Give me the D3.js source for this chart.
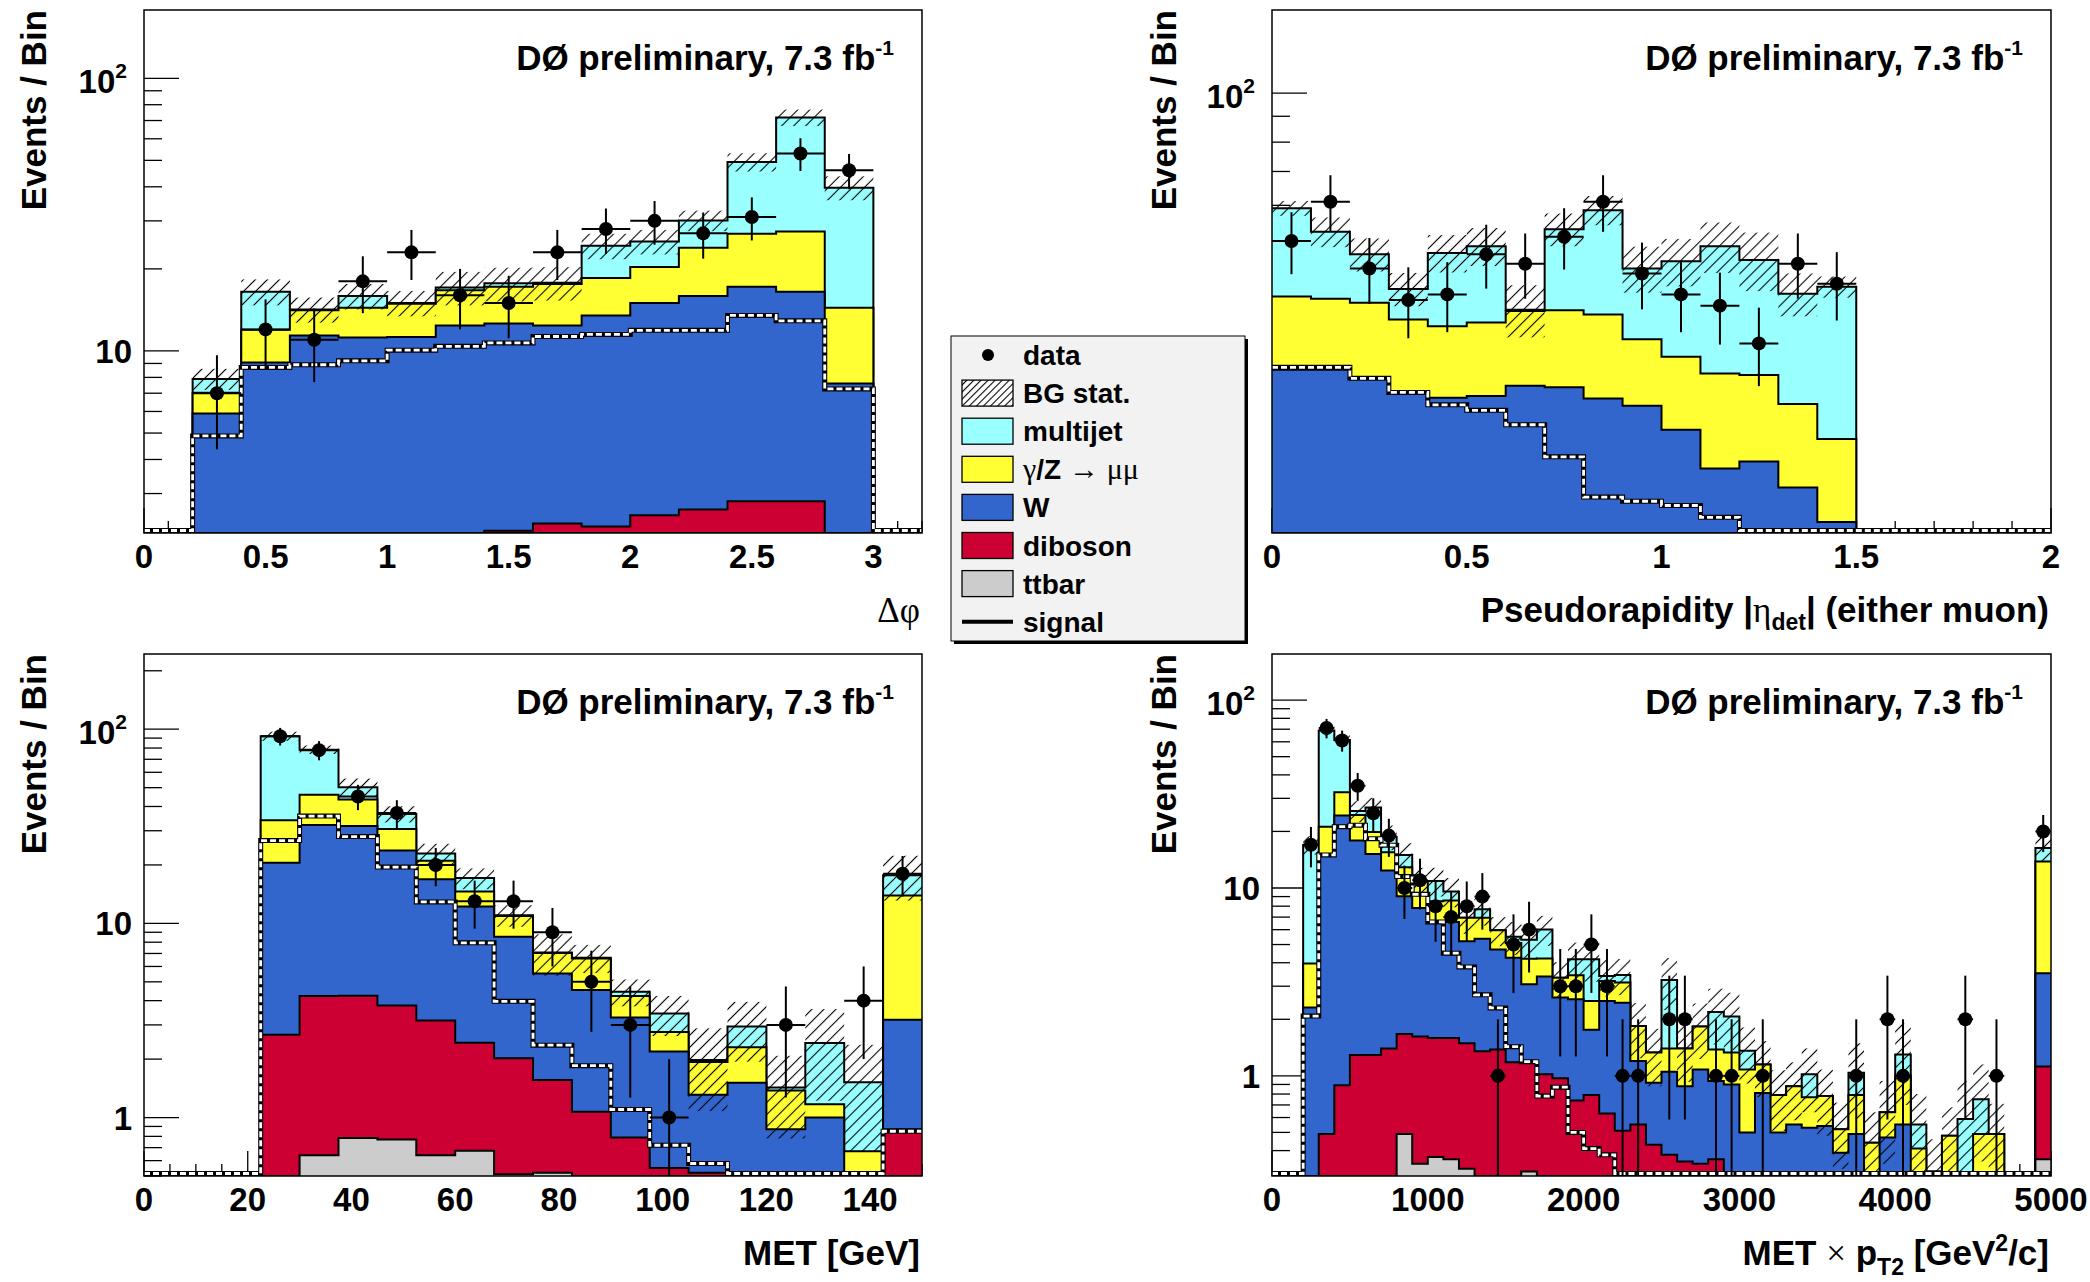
<!DOCTYPE html>
<html><head><meta charset="utf-8">
<script src="https://cdn.jsdelivr.net/npm/d3@7"></script>
<style>
html,body{margin:0;padding:0;background:#fff;}
svg{display:block;}
text{font-family:"Liberation Sans",Arial,Helvetica,sans-serif;font-weight:bold;fill:#000;}
.sym{font-family:"Liberation Serif","DejaVu Serif",serif;font-weight:normal;}
</style></head><body>
<svg id="c" width="2090" height="1282"></svg>
<script>
// ---------------- DATA ----------------
const stackKeys = ["ttbar","diboson","w","zmumu","multijet"]; // bottom -> top

// Panel 1: delta phi
const dphiEdges    = [0,0.2,0.4,0.6,0.8,1,1.2,1.4,1.6,1.8,2,2.2,2.4,2.6,2.8,3,3.2];
const dphiTtbar    = [0,0,0,0,0,0,0,0,0,0,0,0,0,0,0,0];
const dphiDiboson  = [0,0.8,1.0,1.2,1.4,1.6,1.9,2.19,2.33,2.27,2.5,2.62,2.81,2.81,1.4,0];
const dphiW        = [0,5.1,8.08,10.2,9.8,9.65,10.5,10.41,10.07,11.23,12.5,13.28,14.39,13.69,6.2,0];
const dphiZ        = [0,1.13,2.88,2.7,3.2,3.65,4.3,4.6,5.2,5.0,5.3,8.0,9.7,10.9,6.8,0];
const dphiMultijet = [0,0.87,4.54,0.1,1.5,0.1,0.4,0.5,0.2,5.8,4.9,6.2,22.4,44.4,25.3,0];
const dphiSignal   = [0,4.88,8.7,8.9,9.2,10.07,10.4,10.7,11.3,11.5,11.9,11.9,13.5,12.9,7.26,0];
const dphiData     = [0,7,12,11,18,23,16,15,23,28,30,27,31,53,46,0];
const dphiBgErr    = [0,0.7,1.8,1.5,1.7,1.6,2.4,2.5,2.5,2.6,2.6,2.6,3.8,5.0,4.0,0];
const dphiTicks    = [0,0.5,1,1.5,2,2.5,3];

// Panel 2: |eta_det|
const etaEdges    = [0,0.1,0.2,0.3,0.4,0.5,0.6,0.7,0.8,0.9,1.0,1.1,1.2,1.3,1.4,1.5,1.6,1.7,1.8,1.9,2.0];
const etaTtbar    = [0,0,0,0,0,0,0,0,0,0,0,0,0,0,0,0,0,0,0,0];
const etaDiboson  = [1.2,1.2,1.2,1.1,1.1,1.1,1.1,1.1,1.0,1.0,0.9,0.8,0.8,0.7,0.6,0,0,0,0,0];
const etaW        = [27.2,27.2,26.2,24.6,23.9,24.1,25.3,25.1,23.9,23.1,20.7,17.3,17.9,15.9,13.6,0,0,0,0,0];
const etaZ        = [11.2,10.8,11.1,10.0,9.6,10.0,10.7,11.0,11.6,8.5,8.5,9.8,9.0,7.7,6.5,0,0,0,0,0];
const etaMultijet = [19.6,14.0,9.5,5.3,13.7,14.6,0.2,16.6,22.2,12.4,16.4,21.9,19.1,15.8,20.7,0,0,0,0,0];
const etaSignal   = [28.7,28.7,27.3,25.6,24.2,23.6,22.1,19.1,15.9,15.6,15.3,14.5,12,10,8,0,0,0,0,0];
const etaData     = [51,61,45,39,40,48,46,52,61,44,40,38,32,46,42,0,0,0,0,0];
const etaBgErr    = [2.0,3.6,3.6,3.1,4.1,4.3,4.4,4.0,3.9,4.7,5.0,5.7,6.2,3.9,2.0,0,0,0,0,0];
const etaTicks    = [0,0.5,1,1.5,2];

// Panel 3: MET
const metEdges    = [0,7.5,15,22.5,30,37.5,45,52.5,60,67.5,75,82.5,90,97.5,105,112.5,120,127.5,135,142.5,150];
const metTtbar    = [0,0,0,0.3,0.64,0.785,0.77,0.64,0.675,0.51,0.52,0.3,0.2,0.1,0.1,0.05,0.05,0.05,0.05,0.1];
const metDiboson  = [0,0,0,2.37,3.59,3.45,3.01,2.52,1.75,1.51,1.04,0.77,0.59,0.45,0.42,0.35,0.35,0.35,0.35,0.77];
const metW        = [0,0,0,17.83,27.87,27.47,19.92,13.74,9.78,6.52,3.96,3.47,2.49,1.64,0.79,1.11,0.47,0.6,0.11,2.32];
const metZ        = [0,0,0,13.5,13.9,11.7,6.9,4.1,2.4,2.36,1.51,2.06,0.95,0.57,0.62,0.79,0.51,0.17,0.16,10.71];
const metMultijet = [0,0,0,58.1,32.5,6.8,6.0,1.9,2.5,0.1,0.05,0.05,0.21,0.67,0.05,0.64,0.05,1.25,0.85,3.8];
const metSignal   = [0,0,0,26.7,35.7,28.0,19.5,12.9,7.94,3.97,2.36,1.85,1.10,0.72,0.58,0.45,0.4,0.35,0.3,0.85];
const metData     = [0,0,0,92,78,45,37,20,13,13,9,5,3,1,0,0,3,0,4,18];
const metBgErr    = [0,0,0,5,4,5.5,3.5,2.8,2.1,1.4,1.7,1.1,0.7,0.8,0.9,1.0,0.65,1.2,0.85,4.6];
const metTicks    = [0,20,40,60,80,100,120,140];

// Panel 4: MET x pT2
const mptEdges    = [0,100,200,300,400,500,600,700,800,900,1000,1100,1200,1300,1400,1500,1600,1700,1800,1900,2000,
                     2100,2200,2300,2400,2500,2600,2700,2800,2900,3000,3100,3200,3300,3400,3500,3600,3700,3800,3900,4000,
                     4100,4200,4300,4400,4500,4600,4700,4800,4900,5000];
const mptTtbar    = [0,0,0,0,0,0,0.1,0.15,0.49,0.34,0.37,0.36,0.32,0.2,0.15,0.15,0.31,
                     0,0,0,0,0,0,0,0,0,0,0,0,0,0,0,0,0,0,0,0,0,0,0,0,0,0,0,0,0,0,0,0,0.36];
const mptDiboson  = [0,0,0.2,0.49,0.89,1.29,1.19,1.25,1.18,1.28,1.22,1.23,1.17,1.15,1.23,1.03,0.87,1.02,0.97,0.74,0.79,
                     0.63,0.51,0.55,0.43,0.38,0.35,0.34,0.36,0.25,0.2,0.2,0.15,0.15,0.1,0.1,0.1,0.1,0.05,0.05,0.05,
                     0.05,0,0,0,0,0,0,0,0.76];
const mptW        = [0,0,2.11,14.3,23.4,16.6,13.9,11.0,7.38,6.21,5.05,5.0,3.71,4.02,3.32,3.07,1.89,2.36,1.64,1.82,0.97,
                     1.87,1.94,0.65,0.49,0.67,0.53,0.74,0.58,0.65,0.30,0.61,0.35,0.40,0.43,0.44,0.29,0.39,0.15,0.42,0.50,
                     0.15,0.1,0.1,0.1,0.1,0.1,0,0,2.40];
const mptZ        = [0,0,1.65,6.4,8.0,6.6,4.7,3.1,3.85,2.97,1.87,2.0,1.75,1.58,1.25,0.85,1.13,0.83,0.72,0.87,0.74,
                     0.70,0.69,0.64,0.41,0.35,0.52,0.75,0.44,0.43,0.58,0.34,0.29,0.33,0.24,0.24,0.13,0.30,0.24,0.17,0.45,
                     0.21,0.21,0.38,0.10,0.39,0.39,0,0,10.3];
const mptMultijet = [0,0,13.0,47.7,29.0,1.2,6.9,3.2,2.1,0.1,2.4,1.0,0,0.75,0,0.4,1.1,1.8,0,0.74,1.67,
                     0.20,0.30,0,0,1.84,0,0,0.81,0.74,0.28,0,0,0,0.25,0,0,0.25,0,0,0.30,
                     0.14,0,0,0.39,0.26,0,0,0,2.5];
const mptSignal   = [0,0,2.08,15.0,21.2,21.6,18.3,16.9,11.5,9.25,6.6,4.5,3.8,2.7,2.3,1.43,1.19,0.78,0.87,0.50,0.41,
                     0.38,0.2,0.1,0.1,0.1,0.1,0.1,0.1,0.1,0.1,0.1,0.1,0.1,0.1,0.1,0.1,0.1,0.1,0.1,0.1,
                     0.1,0.1,0.1,0.1,0.1,0.1,0,0,0.1];
const mptData     = [0,0,17,71,61,35,25,19,10,11,8,7,8,9,1,5,6,0,3,3,5,
                     3,1,1,0,2,2,0,1,1,0,1,0,0,0,0,0,1,0,2,1,
                     0,0,0,2,0,1,0,0,20];
const mptBgErr    = [0,0,1.9,4.2,3.8,3.3,3.4,2.8,2.3,1.9,1.9,1.7,1.25,1.4,1.05,1.1,1.05,1.1,0.7,0.95,1.0,
                     0.75,0.75,0.6,0.45,1.0,0.47,0.6,0.72,0.7,0.45,0.38,0.28,0.3,0.38,0.3,0.2,0.45,0.2,0.3,0.6,
                     0.25,0.15,0.2,0.35,0.4,0.22,0,0,2.5];
const mptTicks    = [0,1000,2000,3000,4000,5000];

const legendLabels = ["data","BG stat.","multijet","γ/Z → μμ","W","diboson","ttbar","signal"];

// ---------------- STYLE / LAYOUT ----------------
const COLORS = {multijet:"#99ffff", zmumu:"#ffff33", w:"#3366cc", diboson:"#cc0033", ttbar:"#cccccc"};
const svg = d3.select("#c");
const defs = svg.append("defs");
function makeHatch(id, gap){
  const p = defs.append("pattern").attr("id",id).attr("patternUnits","userSpaceOnUse")
    .attr("width",gap).attr("height",gap).attr("patternTransform","rotate(45)");
  p.append("line").attr("x1",gap/2).attr("y1",0).attr("x2",gap/2).attr("y2",gap)
    .attr("stroke","#000").attr("stroke-width",1.1);
}
makeHatch("hatch",8.5);
makeHatch("hatchLeg",5);

const panels = [
  {id:"p1", frame:{x0:144,x1:922,y0:10,y1:533}, xDomain:[0,3.2], yDomain:[2.15,178],
   edges:dphiEdges, ttbar:dphiTtbar, diboson:dphiDiboson, w:dphiW, zmumu:dphiZ, multijet:dphiMultijet,
   signal:dphiSignal, data:dphiData, err:dphiBgErr, xTicks:dphiTicks, xMinor:0.1, yLabels:[10,100],
   yTitleX:46, xTitle:"dphi"},
  {id:"p2", frame:{x0:1272,x1:2051,y0:10,y1:533}, xDomain:[0,2], yDomain:[13.5,146],
   edges:etaEdges, ttbar:etaTtbar, diboson:etaDiboson, w:etaW, zmumu:etaZ, multijet:etaMultijet,
   signal:etaSignal, data:etaData, err:etaBgErr, xTicks:etaTicks, xMinor:0.1, yLabels:[100],
   yTitleX:1176, xTitle:"eta"},
  {id:"p3", frame:{x0:144,x1:922,y0:654,y1:1176}, xDomain:[0,150], yDomain:[0.5,244],
   edges:metEdges, ttbar:metTtbar, diboson:metDiboson, w:metW, zmumu:metZ, multijet:metMultijet,
   signal:metSignal, data:metData, err:metBgErr, xTicks:metTicks, xMinor:5, yLabels:[1,10,100],
   yTitleX:46, xTitle:"met"},
  {id:"p4", frame:{x0:1272,x1:2051,y0:654,y1:1176}, xDomain:[0,5000], yDomain:[0.293,176],
   edges:mptEdges, ttbar:mptTtbar, diboson:mptDiboson, w:mptW, zmumu:mptZ, multijet:mptMultijet,
   signal:mptSignal, data:mptData, err:mptBgErr, xTicks:mptTicks, xMinor:200, yLabels:[1,10,100],
   yTitleX:1176, xTitle:"mpt"}
];

function drawPanel(p){
  const f = p.frame;
  const g = svg.append("g");
  const x = d3.scaleLinear().domain(p.xDomain).range([f.x0,f.x1]);
  const y = d3.scaleLog().domain(p.yDomain).range([f.y1,f.y0]);
  const ymin = p.yDomain[0];
  const yc = v => y(Math.max(v, ymin));
  const clipId = "clip-"+p.id;
  defs.append("clipPath").attr("id",clipId).append("rect")
    .attr("x",f.x0).attr("y",f.y0).attr("width",f.x1-f.x0).attr("height",f.y1-f.y0);

  // ---- ticks (behind histograms) ----
  const ax = g.append("g").attr("stroke","#000").attr("stroke-width",1.3);
  const e0 = Math.floor(Math.log10(ymin)), e1 = Math.ceil(Math.log10(p.yDomain[1]));
  for(let e=e0;e<=e1;e++){
    for(let m=1;m<=9;m++){
      const v = m*Math.pow(10,e);
      if(v<ymin || v>p.yDomain[1]) continue;
      const len = m===1?35:18;
      ax.append("line").attr("x1",f.x0).attr("x2",f.x0+len).attr("y1",y(v)).attr("y2",y(v));
    }
  }
  const nMinor = Math.round((p.xDomain[1]-p.xDomain[0])/p.xMinor);
  for(let i=0;i<=nMinor;i++){
    const v = p.xDomain[0]+i*p.xMinor;
    const isMajor = p.xTicks.some(t=>Math.abs(t-v)<1e-9);
    ax.append("line").attr("x1",x(v)).attr("x2",x(v)).attr("y1",f.y1).attr("y2",f.y1-(isMajor?25:12));
  }

  // ---- histogram rows ----
  const n = p.edges.length-1;
  const rows = d3.range(n).map(i=>({lo:p.edges[i], hi:p.edges[i+1],
    ttbar:p.ttbar[i], diboson:p.diboson[i], w:p.w[i], zmumu:p.zmumu[i], multijet:p.multijet[i],
    signal:p.signal[i], data:p.data[i], err:p.err[i]}));
  const series = d3.stack().keys(stackKeys)(rows);
  const plot = g.append("g").attr("clip-path",`url(#${clipId})`);
  const area = d3.area().curve(d3.curveStepAfter).x(d=>x(d.x)).y0(f.y1).y1(d=>yc(d.v));
  const line = d3.line().curve(d3.curveStepAfter).x(d=>x(d.x)).y(d=>yc(d.v));

  for(let k=series.length-1;k>=0;k--){
    const s = series[k];
    const pts = s.map((d,i)=>({x:rows[i].lo, v:d[1]}));
    pts.push({x:rows[n-1].hi, v:s[n-1][1]});
    plot.append("path").attr("d",area(pts)).attr("fill",COLORS[s.key]);
    plot.append("path").attr("d",line(pts)).attr("fill","none").attr("stroke","#000").attr("stroke-width",2);
  }
  // ---- BG stat hatched band ----
  const top = series[series.length-1];
  rows.forEach((r,i)=>{
    const tot = top[i][1];
    if(tot>0 && r.err>0){
      const ya = yc(tot+r.err), yb = yc(tot-r.err);
      plot.append("rect").attr("x",x(r.lo)).attr("width",x(r.hi)-x(r.lo))
        .attr("y",ya).attr("height",Math.max(0,yb-ya)).attr("fill","url(#hatch)");
    }
  });
  // ---- signal ----
  const sp = rows.map(r=>({x:r.lo, v:r.signal}));
  sp.push({x:rows[n-1].hi, v:rows[n-1].signal});
  const sline = d3.line().curve(d3.curveStepAfter).x(d=>x(d.x)).y(d=>Math.min(yc(d.v), f.y1-2.5));
  plot.append("path").attr("d",sline(sp)).attr("fill","none").attr("stroke","#000").attr("stroke-width",5);
  plot.append("path").attr("d",sline(sp)).attr("fill","none").attr("stroke","#fff").attr("stroke-width",2.8)
    .attr("stroke-dasharray","6,3");
  // ---- data ----
  const dg = plot.append("g");
  rows.forEach(r=>{
    if(!(r.data>0)) return;
    const cx = x((r.lo+r.hi)/2), cy = y(r.data), e = Math.sqrt(r.data);
    dg.append("line").attr("x1",cx).attr("x2",cx).attr("y1",yc(r.data-e)).attr("y2",y(r.data+e))
      .attr("stroke","#000").attr("stroke-width",2);
    dg.append("line").attr("x1",x(r.lo)).attr("x2",x(r.hi)).attr("y1",cy).attr("y2",cy)
      .attr("stroke","#000").attr("stroke-width",2);
    dg.append("circle").attr("cx",cx).attr("cy",cy).attr("r",7).attr("fill","#000");
  });
  // ---- frame ----
  g.append("rect").attr("x",f.x0).attr("y",f.y0).attr("width",f.x1-f.x0).attr("height",f.y1-f.y0)
    .attr("fill","none").attr("stroke","#000").attr("stroke-width",1.5);

  // ---- tick labels ----
  p.xTicks.forEach(t=>{
    g.append("text").attr("x",x(t)).attr("y",f.y1+35).attr("text-anchor","middle")
      .attr("font-size",33).text(String(t));
  });
  p.yLabels.forEach(v=>{
    const t = g.append("text").attr("text-anchor","end").attr("font-size",33);
    if(v===100){
      t.attr("x",f.x0-17).attr("y",y(v)+15);
      t.append("tspan").text("10");
      t.append("tspan").attr("font-size",21).attr("dy",-15).text("2");
    } else {
      t.attr("x",f.x0-12).attr("y",y(v)+12).text(String(v));
    }
  });
  // ---- y title ----
  g.append("text").attr("transform",`translate(${p.yTitleX},${f.y0}) rotate(-90)`)
    .attr("text-anchor","end").attr("font-size",35).text("Events / Bin");
  // ---- DØ label ----
  const lab = g.append("text").attr("x",f.x1-28).attr("y",f.y0+60).attr("text-anchor","end").attr("font-size",35);
  lab.append("tspan").text("DØ preliminary, 7.3 fb");
  lab.append("tspan").attr("font-size",21).attr("dy",-15).text("-1");
  // ---- x title ----
  const xt = g.append("text").attr("x",f.x1-2).attr("y",f.y1+89).attr("text-anchor","end").attr("font-size",35);
  if(p.xTitle==="dphi"){
    xt.append("tspan").attr("class","sym").text("Δφ");
  } else if(p.xTitle==="eta"){
    xt.append("tspan").text("Pseudorapidity |");
    xt.append("tspan").attr("class","sym").text("η");
    xt.append("tspan").attr("font-size",23).attr("dy",8).text("det");
    xt.append("tspan").attr("dy",-8).text("| (either muon)");
  } else if(p.xTitle==="met"){
    xt.text("MET [GeV]");
  } else {
    xt.append("tspan").text("MET ");
    xt.append("tspan").attr("class","sym").text("×");
    xt.append("tspan").text(" p");
    xt.append("tspan").attr("font-size",23).attr("dy",10).text("T2");
    xt.append("tspan").attr("dy",-10).text(" [GeV");
    xt.append("tspan").attr("font-size",23).attr("dy",-14).text("2");
    xt.append("tspan").attr("dy",14).text("/c]");
  }
}
panels.forEach(drawPanel);

// ---------------- LEGEND ----------------
const L = {x:951, y:336, w:294, h:305};
const lg = svg.append("g");
lg.append("rect").attr("x",L.x+3).attr("y",L.y+3).attr("width",L.w).attr("height",L.h).attr("fill","#000");
lg.append("rect").attr("x",L.x).attr("y",L.y).attr("width",L.w).attr("height",L.h)
  .attr("fill","#f2f2f2").attr("stroke","#000").attr("stroke-width",1);
const legFill = [null,"url(#hatchLeg)",COLORS.multijet,COLORS.zmumu,COLORS.w,COLORS.diboson,COLORS.ttbar,null];
legendLabels.forEach((lab,i)=>{
  const cy = L.y+19+i*38.1;
  if(i===0){
    lg.append("circle").attr("cx",988).attr("cy",cy).attr("r",6).attr("fill","#000");
  } else if(i===7){
    lg.append("line").attr("x1",962).attr("x2",1013).attr("y1",cy).attr("y2",cy).attr("stroke","#000").attr("stroke-width",4);
  } else {
    if(i===1) lg.append("rect").attr("x",962).attr("y",cy-13).attr("width",51).attr("height",26).attr("fill","#fff");
    lg.append("rect").attr("x",962).attr("y",cy-13).attr("width",51).attr("height",26)
      .attr("fill",legFill[i]).attr("stroke","#000").attr("stroke-width",1.3);
  }
  const t = lg.append("text").attr("x",1023).attr("y",cy+10).attr("font-size",28);
  if(i===3){
    const parts = lab.split(/(γ|→|μμ)/).filter(s=>s.length);
    parts.forEach(s=>{
      const sp = t.append("tspan").text(s);
      if(s==="γ"||s==="→"||s==="μμ") sp.attr("class","sym").attr("font-size",30);
    });
  } else t.text(lab);
});
</script></body></html>
